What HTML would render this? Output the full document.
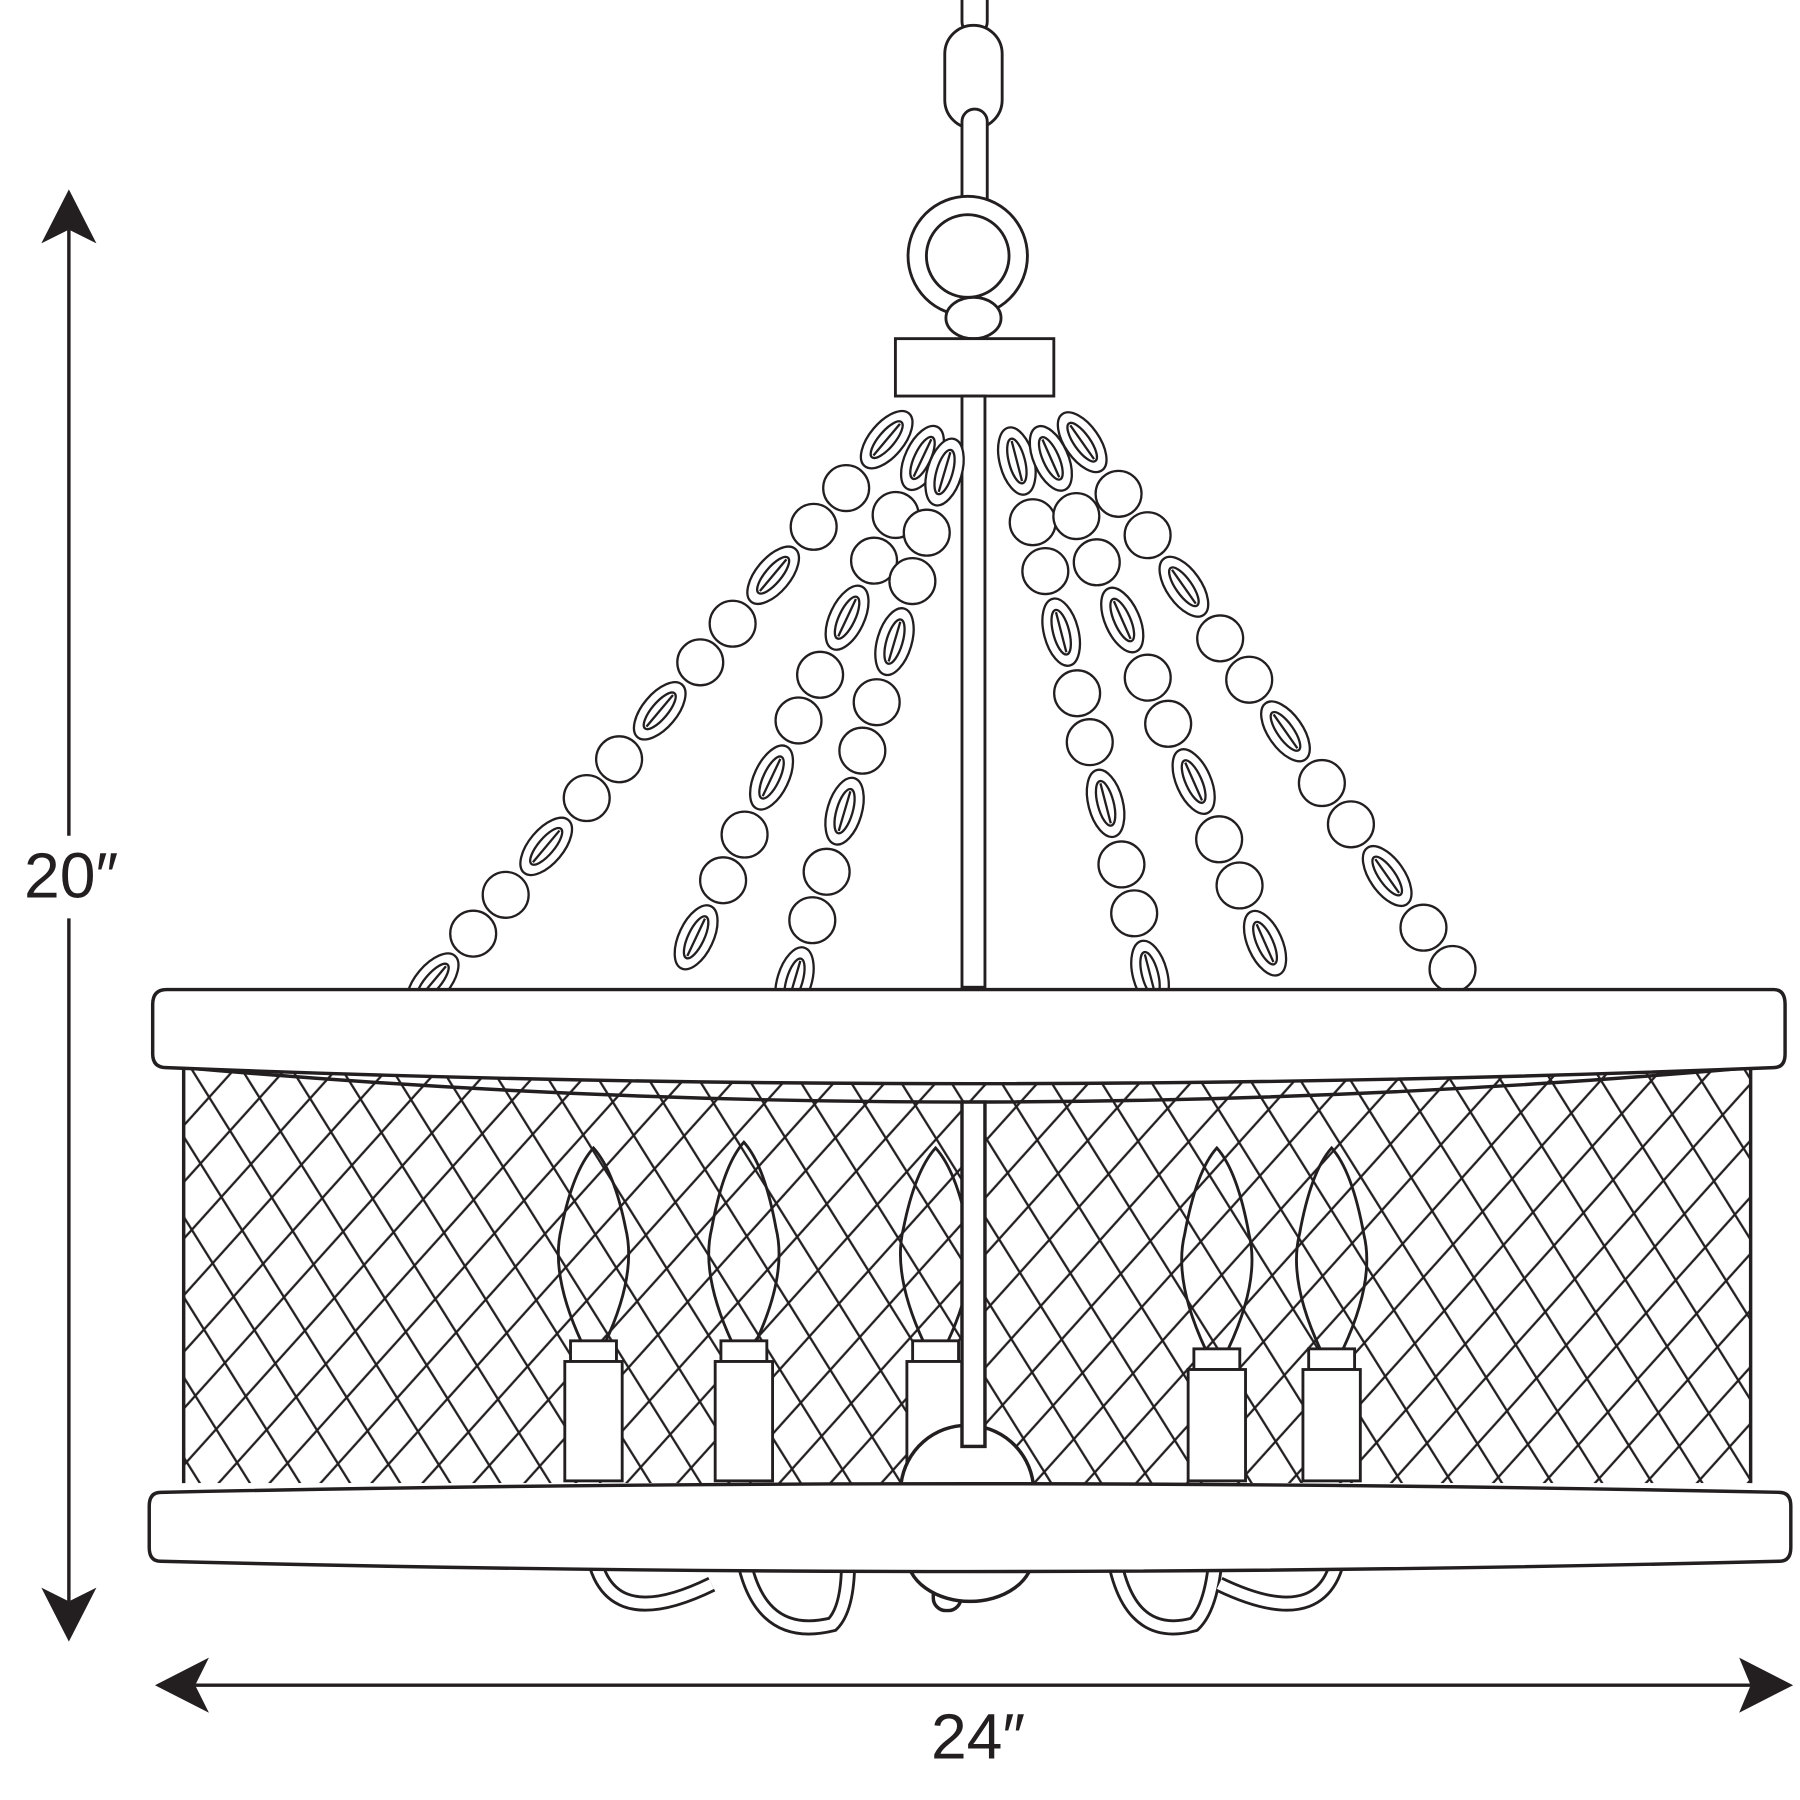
<!DOCTYPE html>
<html><head><meta charset="utf-8"><style>
html,body{margin:0;padding:0;background:#fff}
svg{display:block}
text{font-family:"Liberation Sans",sans-serif;fill:#231f20}
</style></head><body>
<svg width="1800" height="1800" viewBox="0 0 1568 1568" xmlns="http://www.w3.org/2000/svg">
<defs>
<clipPath id="cage"><rect x="160" y="930" width="1365" height="362"/></clipPath>
<pattern id="p1" width="37" height="37" patternUnits="userSpaceOnUse" patternTransform="rotate(-32)">
<line x1="18" y1="-5" x2="18" y2="42" stroke="#231f20" stroke-width="2"/></pattern>
<pattern id="p2" width="33" height="33" patternUnits="userSpaceOnUse" patternTransform="rotate(42)">
<line x1="16" y1="-5" x2="16" y2="40" stroke="#231f20" stroke-width="2"/></pattern>
<g id="ov"><ellipse rx="30" ry="15"/><ellipse rx="20" ry="7" fill="none"/><line x1="-18" y1="0" x2="18" y2="0"/></g>
</defs>
<g fill="none" stroke="#231f20" stroke-width="3">
<line x1="60" y1="200" x2="60" y2="728"/>
<line x1="60" y1="800" x2="60" y2="1395"/>
<line x1="170" y1="1468" x2="1525" y2="1468"/>
</g>
<g fill="#231f20">
<path d="M60 165 L36 212 L60 200 L84 212 Z"/>
<path d="M60 1430 L36 1383 L60 1395 L84 1383 Z"/>
<path d="M135 1468 L182 1444 L170 1468 L182 1492 Z"/>
<path d="M1562 1468 L1515 1444 L1525 1468 L1515 1492 Z"/>
</g>
<text x="62" y="782" font-size="56" text-anchor="middle">20″</text>
<text x="852" y="1532" font-size="56" text-anchor="middle">24″</text>

<g fill="#fff" stroke="#231f20" stroke-width="2.5">
<rect x="838" y="-30" width="22" height="60" rx="11"/>
<rect x="823" y="22" width="50" height="90" rx="25"/>
<rect x="838" y="95" width="22" height="90" rx="11"/>
<circle cx="843" cy="223" r="52"/>
<circle cx="843" cy="223" r="36"/>
<ellipse cx="848" cy="277" rx="24" ry="18"/>
<rect x="780" y="295" width="138" height="50"/>
<rect x="838" y="345" width="20" height="515"/>
</g>

<g fill="#fff" stroke="#231f20" stroke-width="2">
<use href="#ov" transform="translate(772.4,383) rotate(130)"/>
<circle cx="737.1" cy="425.2" r="20"/><circle cx="708.8" cy="458.9" r="20"/>
<use href="#ov" transform="translate(673.5,501.1) rotate(130)"/>
<circle cx="638.2" cy="543.3" r="20"/><circle cx="610" cy="577" r="20"/>
<use href="#ov" transform="translate(574.7,619.2) rotate(130)"/>
<circle cx="539.3" cy="661.4" r="20"/><circle cx="511.1" cy="695.2" r="20"/>
<use href="#ov" transform="translate(475.8,737.3) rotate(130)"/>
<circle cx="440.5" cy="779.5" r="20"/><circle cx="412.2" cy="813.3" r="20"/>
<use href="#ov" transform="translate(376.9,855.5) rotate(130)"/>

<use href="#ov" transform="translate(803.6,398.9) rotate(115.3)"/>
<circle cx="780.2" cy="448.6" r="20"/><circle cx="761.4" cy="488.4" r="20"/>
<use href="#ov" transform="translate(737.9,538.1) rotate(115.3)"/>
<circle cx="714.4" cy="587.8" r="20"/><circle cx="695.6" cy="627.6" r="20"/>
<use href="#ov" transform="translate(672.1,677.3) rotate(115.3)"/>
<circle cx="648.6" cy="727" r="20"/><circle cx="629.9" cy="766.8" r="20"/>
<use href="#ov" transform="translate(606.4,816.5) rotate(115.3)"/>

<use href="#ov" transform="translate(822.8,411.2) rotate(106.4)"/>
<circle cx="807.3" cy="464" r="20"/><circle cx="794.8" cy="506.2" r="20"/>
<use href="#ov" transform="translate(779.2,558.9) rotate(106.4)"/>
<circle cx="763.7" cy="611.7" r="20"/><circle cx="751.2" cy="653.9" r="20"/>
<use href="#ov" transform="translate(735.7,706.6) rotate(106.4)"/>
<circle cx="720.1" cy="759.4" r="20"/><circle cx="707.6" cy="801.6" r="20"/>
<use href="#ov" transform="translate(692.1,854.3) rotate(106.4)"/>

<use href="#ov" transform="translate(885.8,401.6) rotate(75.5)"/>
<circle cx="899.6" cy="454.9" r="20"/><circle cx="910.6" cy="497.5" r="20"/>
<use href="#ov" transform="translate(924.4,550.7) rotate(75.5)"/>
<circle cx="938.3" cy="603.9" r="20"/><circle cx="949.3" cy="646.5" r="20"/>
<use href="#ov" transform="translate(963.1,699.8) rotate(75.5)"/>
<circle cx="976.9" cy="753" r="20"/><circle cx="988" cy="795.6" r="20"/>
<use href="#ov" transform="translate(1001.8,848.8) rotate(75.5)"/>

<use href="#ov" transform="translate(915.4,399.3) rotate(66.1)"/>
<circle cx="937.6" cy="449.6" r="20"/><circle cx="955.4" cy="489.8" r="20"/>
<use href="#ov" transform="translate(977.6,540.1) rotate(66.1)"/>
<circle cx="999.8" cy="590.3" r="20"/><circle cx="1017.6" cy="630.5" r="20"/>
<use href="#ov" transform="translate(1039.8,680.8) rotate(66.1)"/>
<circle cx="1062" cy="731.1" r="20"/><circle cx="1079.8" cy="771.3" r="20"/>
<use href="#ov" transform="translate(1102,821.6) rotate(66.1)"/>

<use href="#ov" transform="translate(942.7,385.2) rotate(54.9)"/>
<circle cx="974.4" cy="430.2" r="20"/><circle cx="999.7" cy="466.2" r="20"/>
<use href="#ov" transform="translate(1031.3,511.1) rotate(54.9)"/>
<circle cx="1062.9" cy="556.1" r="20"/><circle cx="1088.2" cy="592.1" r="20"/>
<use href="#ov" transform="translate(1119.8,637.1) rotate(54.9)"/>
<circle cx="1151.5" cy="682.1" r="20"/><circle cx="1176.8" cy="718.1" r="20"/>
<use href="#ov" transform="translate(1208.4,763.1) rotate(54.9)"/>
<circle cx="1240" cy="808.1" r="20"/><circle cx="1265.3" cy="844.1" r="20"/>
</g>

<g fill="#fff" stroke="#231f20" stroke-width="3">
<g fill="none">
<path d="M515 1340 Q522 1428 620 1380" stroke-width="14"/>
<path d="M515 1340 Q522 1428 620 1380" stroke="#fff" stroke-width="9"/>
<path d="M645 1340 Q655 1432 725 1415 Q742 1398 738 1340" stroke-width="14"/>
<path d="M645 1340 Q655 1432 725 1415 Q742 1398 738 1340" stroke="#fff" stroke-width="9"/>
<path d="M968 1340 Q978 1432 1040 1415 Q1058 1398 1060 1340" stroke-width="14"/>
<path d="M968 1340 Q978 1432 1040 1415 Q1058 1398 1060 1340" stroke="#fff" stroke-width="9"/>
<path d="M1168 1340 Q1162 1428 1062 1380" stroke-width="14"/>
<path d="M1168 1340 Q1162 1428 1062 1380" stroke="#fff" stroke-width="9"/>
</g>
<rect x="813" y="1375" width="24" height="28" rx="11"/>
<path d="M790 1355 A55 40 0 0 0 900 1355"/>

<rect x="160" y="930" width="1365" height="362" fill="#fff" stroke="none"/>
<path d="M160 930 Q842 990 1525 930" fill="none"/>
<rect x="160" y="930" width="1365" height="362" fill="url(#p1)" stroke="none" clip-path="url(#cage)"/>
<rect x="160" y="930" width="1365" height="362" fill="url(#p2)" stroke="none" clip-path="url(#cage)"/>
<line x1="160" y1="930" x2="160" y2="1292"/>
<line x1="1525" y1="930" x2="1525" y2="1292"/>

<g stroke-width="2.5" fill="none">
<path d="M507 1170 Q479 1110 489 1070 Q499 1020 517 1000 Q535 1020 545 1070 Q555 1110 527 1170"/>
<path d="M638 1170 Q610 1110 620 1070 Q630 1015 648 995 Q666 1015 676 1070 Q686 1110 658 1170"/>
<path d="M805 1170 Q777 1110 787 1070 Q797 1020 815 1000 Q833 1020 843 1070 Q853 1110 825 1170"/>
<path d="M1050 1175 Q1022 1115 1032 1075 Q1042 1020 1060 1000 Q1078 1020 1088 1075 Q1098 1115 1070 1175"/>
<path d="M1150 1175 Q1122 1115 1132 1075 Q1142 1020 1160 1000 Q1178 1020 1188 1075 Q1198 1115 1170 1175"/>
</g>
<g stroke-width="2.5">
<rect x="497" y="1168" width="40" height="18"/><rect x="492" y="1186" width="50" height="104"/>
<rect x="628" y="1168" width="40" height="18"/><rect x="623" y="1186" width="50" height="104"/>
<rect x="795" y="1168" width="40" height="18"/><rect x="790" y="1186" width="50" height="104"/>
<rect x="1040" y="1175" width="40" height="18"/><rect x="1035" y="1193" width="50" height="97"/>
<rect x="1140" y="1175" width="40" height="18"/><rect x="1135" y="1193" width="50" height="97"/>
</g>
<path d="M785 1292 A58 58 0 0 1 900 1292"/>
<rect x="838" y="960" width="20" height="300"/>

<path d="M145 862 L1545 862 Q1555 862 1555 875 L1555 918 Q1555 930 1545 930 Q842 958 145 930 Q133 930 133 918 L133 875 Q133 862 145 862 Z"/>
<path d="M140 1300 Q842 1285 1550 1300 Q1560 1300 1560 1312 L1560 1348 Q1560 1360 1550 1360 Q842 1378 140 1360 Q130 1360 130 1348 L130 1312 Q130 1300 140 1300 Z"/>
</g>
</svg>
</body></html>
